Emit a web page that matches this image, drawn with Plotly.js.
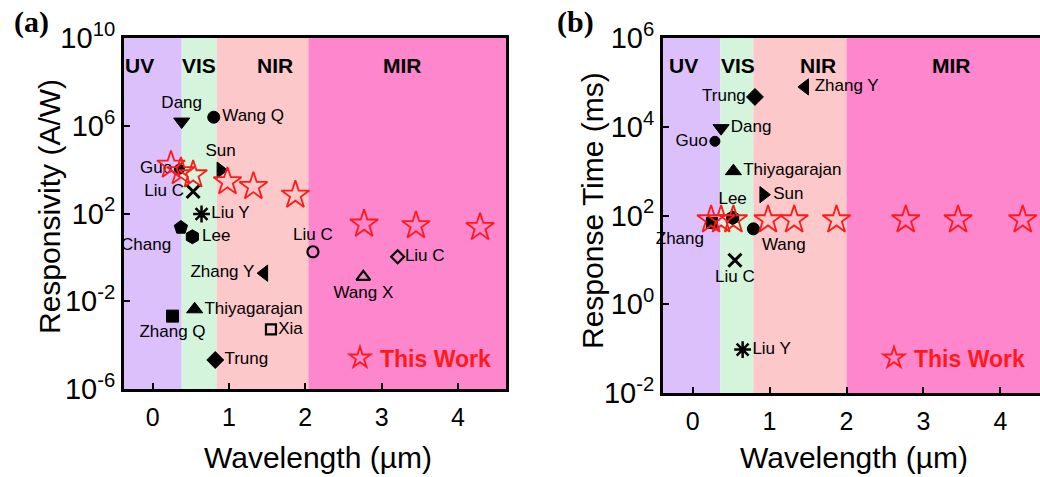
<!DOCTYPE html>
<html>
<head>
<meta charset="utf-8">
<script src="https://cdn.plot.ly/plotly-3.0.1.min.js"></script>
<style>
html,body{margin:0;padding:0;background:#fff;}
#chart{width:1040px;height:477px;}
</style>
</head>
<body>
<div id="chart"></div>
<script>
// ---------- DATA ----------
// spectral bands
const bandNames = ['UV', 'VIS', 'NIR', 'MIR'];
const bandEdgesA = [-0.376, 0.38, 0.84, 2.04, 4.63];
const bandEdgesB = [-0.385, 0.36, 0.79, 2.0, 4.515];
const bandColors = ['#dcc0fb', '#d4f4dc', '#fcc8c9', '#fd86cc'];

// This Work (both panels share wavelengths)
const workWavelength = [0.24, 0.37, 0.53, 0.98, 1.32, 1.87, 2.77, 3.45, 4.29];
const workResponsivity = [1.6e4, 8.1e3, 5.8e3, 2.8e3, 1.7e3, 690, 33, 28, 23];
const workResponseTime = [80, 80, 80, 80, 80, 80, 80, 80, 80];

// Panel (a): literature responsivity
const litANames = ['Dang', 'Wang Q', 'Sun', 'Guo', 'Liu C', 'Liu Y', 'Chang', 'Lee',
  'Liu C', 'Liu C', 'Zhang Y', 'Wang X', 'Thiyagarajan', 'Zhang Q', 'Xia', 'Trung'];
const litAWavelength = [0.38, 0.80, 0.89, 0.35, 0.53, 0.64, 0.37, 0.52,
  2.10, 3.21, 1.46, 2.76, 0.55, 0.26, 1.55, 0.82];
const litAResponsivity = [1.55e6, 2.45e6, 9.5e3, 1.05e4, 1.0e3, 95, 23, 8.7,
  1.8, 1.07, 0.19, 0.13, 4.3e-3, 2.1e-3, 5.2e-4, 2.1e-5];

// Panel (b): literature response time (ms)
const litBNames = ['Zhang Y', 'Trung', 'Dang', 'Guo', 'Thiyagarajan', 'Sun', 'Lee',
  'Zhang', 'Wang', 'Liu C', 'Liu Y'];
const litBWavelength = [1.46, 0.81, 0.37, 0.29, 0.53, 0.92, 0.52, 0.25, 0.79, 0.55, 0.65];
const litBResponseTime = [7.9e4, 4.7e4, 9.3e3, 4.7e3, 1000, 295, 89, 68, 50, 9.8, 0.095];

// tick labels
const xTickVals = [0, 1, 2, 3, 4];
const xTickText = ['0', '1', '2', '3', '4'];
const yTickValsA = [1e10, 1e6, 1e2, 1e-2, 1e-6];
const yTickTextA = ['10<sup>10</sup>', '10<sup>6</sup>', '10<sup>2</sup>', '10<sup>-2</sup>', '10<sup>-6</sup>'];
const yTickValsB = [1e6, 1e4, 1e2, 1, 1e-2];
const yTickTextB = ['10<sup>6</sup>', '10<sup>4</sup>', '10<sup>2</sup>', '10<sup>0</sup>', '10<sup>-2</sup>'];

// axis titles
const xTitle = 'Wavelength (µm)';
const yTitleA = 'Responsivity (A/W)';
const yTitleB = 'Response Time (ms)';

// ---------- STYLE ----------
const FONT = 'Liberation Sans, Arial, Helvetica, sans-serif';
const symA = ['triangle-down', 'circle', 'triangle-right', 'circle', 'x-thin-open', 'asterisk-open',
  'pentagon', 'hexagon', 'circle-open', 'diamond-open', 'triangle-left', 'triangle-up-open',
  'triangle-up', 'square', 'square-open', 'diamond'];
const sizeA = [14, 12, 14, 10, 13, 14, 14, 14, 11, 10, 14, 12, 14, 12, 10, 13];
const lwA = [1, 1, 1, 1, 3, 2.5, 1, 1, 2.2, 2.2, 1, 2.2, 1, 1, 2.2, 1];
const posA = ['top center', 'middle right', 'top center', 'middle left', 'middle left', 'middle right',
  'bottom left', 'middle right', 'top center', 'middle right', 'middle left', 'bottom center',
  'middle right', 'bottom center', 'middle right', 'middle right'];

const symB = ['triangle-left', 'diamond', 'triangle-down', 'circle', 'triangle-up', 'triangle-right',
  'hexagon', 'square', 'circle', 'x-thin-open', 'asterisk-open'];
const sizeB = [14, 13, 14, 10, 14, 14, 14, 11, 12, 13, 14];
const lwB = [1, 1, 1, 1, 1, 1, 1, 1, 1, 3, 2.5];
const posB = ['middle right', 'middle left', 'middle right', 'middle left', 'middle right', 'middle right',
  'top center', 'bottom left', 'bottom right', 'bottom center', 'middle right'];

const bandLabelXA = [-0.17, 0.61, 1.6, 3.28];
const bandLabelXB = [-0.12, 0.59, 1.63, 3.36];

// ---------- TRACES ----------
const traces = [
  {
    x: litAWavelength, y: litAResponsivity, text: litANames,
    xaxis: 'x', yaxis: 'y', type: 'scatter', mode: 'markers+text',
    textposition: posA, textfont: {family: FONT, size: 17, color: '#000'},
    marker: {symbol: symA, size: sizeA, color: '#000', opacity: 1, line: {color: '#000', width: lwA}},
    showlegend: false, hoverinfo: 'x+y+text', cliponaxis: false
  },
  {
    x: workWavelength, y: workResponsivity, name: 'This Work',
    xaxis: 'x', yaxis: 'y', type: 'scatter', mode: 'markers',
    marker: {symbol: 'star-open', size: 21, color: '#ff1a1a', line: {color: '#ff1a1a', width: 1.8}},
    showlegend: true, legend: 'legend', cliponaxis: false
  },
  {
    x: litBWavelength, y: litBResponseTime, text: litBNames,
    xaxis: 'x2', yaxis: 'y2', type: 'scatter', mode: 'markers+text',
    textposition: posB, textfont: {family: FONT, size: 17, color: '#000'},
    marker: {symbol: symB, size: sizeB, color: '#000', opacity: 1, line: {color: '#000', width: lwB}},
    showlegend: false, hoverinfo: 'x+y+text', cliponaxis: false
  },
  {
    x: workWavelength, y: workResponseTime, name: 'This Work',
    xaxis: 'x2', yaxis: 'y2', type: 'scatter', mode: 'markers',
    marker: {symbol: 'star-open', size: 21, color: '#ff1a1a', line: {color: '#ff1a1a', width: 1.8}},
    showlegend: true, legend: 'legend2', cliponaxis: false
  }
];

// ---------- SHAPES / ANNOTATIONS ----------
const shapes = [];
const annotations = [];
function addBands(edges, labelX, xref, yref) {
  for (let i = 0; i < bandNames.length; i++) {
    shapes.push({
      type: 'rect', xref: xref, yref: yref + ' domain',
      x0: edges[i], x1: edges[i + 1], y0: 0, y1: 1,
      fillcolor: bandColors[i], line: {width: 0}, layer: 'below'
    });
    annotations.push({
      text: '<b>' + bandNames[i] + '</b>', xref: xref, yref: yref + ' domain',
      x: labelX[i], y: 0.923, xanchor: 'center', yanchor: 'middle', showarrow: false,
      font: {family: FONT, size: 21, color: '#000'}
    });
  }
}
addBands(bandEdgesA, bandLabelXA, 'x', 'y');
addBands(bandEdgesB, bandLabelXB, 'x2', 'y2');

function addText(text, px, py, size, family, angle) {
  annotations.push({
    text: text, xref: 'paper', yref: 'paper', x: px / 1040, y: 1 - py / 477,
    xanchor: 'center', yanchor: 'middle', showarrow: false, textangle: angle || 0,
    font: {family: family, size: size, color: '#000'}
  });
}
const SERIF = 'Liberation Serif, Times New Roman, serif';
addText('<b>(a)</b>', 31, 22, 30, SERIF);
addText('<b>(b)</b>', 575, 22, 30, SERIF);
// axis titles
addText(yTitleA, 49, 207, 30, FONT, -90);
addText(yTitleB, 592, 211, 30, FONT, -90);
addText(xTitle, 318, 457, 30, FONT);
addText(xTitle, 854, 457, 30, FONT);

const axBase = {
  showline: true, linecolor: '#000', linewidth: 3,
  ticks: 'inside', ticklen: 6, tickwidth: 2, tickcolor: '#000',
  showgrid: false, zeroline: false, automargin: false
};

const legendBase = {
  bgcolor: 'rgba(0,0,0,0)', borderwidth: 0, xref: 'paper', yref: 'paper',
  xanchor: 'left', yanchor: 'middle', itemsizing: 'trace',
  font: {family: FONT, size: 23, color: '#ff1a1a', weight: 'bold'}
};

const layout = {
  width: 1040, height: 477,
  margin: {l: 0, r: 0, t: 0, b: 0},
  paper_bgcolor: '#fff', plot_bgcolor: '#fff',
  font: {family: FONT, color: '#000'},
  xaxis: Object.assign({}, axBase, {
    domain: [124 / 1040, 506 / 1040], range: [-0.376, 4.63], mirror: true,
    tickvals: xTickVals, ticktext: xTickText, tickfont: {family: FONT, size: 25},
    ticklabelstandoff: 4, anchor: 'y'
  }),
  yaxis: Object.assign({}, axBase, {
    domain: [1 - 389 / 477, 1 - 38 / 477], type: 'log', range: [-6, 10], mirror: true,
    tickvals: yTickValsA, ticktext: yTickTextA, tickfont: {family: FONT, size: 29},
    anchor: 'x'
  }),
  xaxis2: Object.assign({}, axBase, {
    domain: [663 / 1040, 1], range: [-0.385, 4.515], mirror: true,
    tickvals: xTickVals, ticktext: xTickText, tickfont: {family: FONT, size: 25},
    ticklabelstandoff: 4, anchor: 'y2'
  }),
  yaxis2: Object.assign({}, axBase, {
    domain: [1 - 393 / 477, 1 - 38 / 477], type: 'log', range: [-2, 6], mirror: false,
    tickvals: yTickValsB, ticktext: yTickTextB, tickfont: {family: FONT, size: 29},
    anchor: 'x2'
  }),
  legend: Object.assign({}, legendBase, {x: 340 / 1040, y: 1 - 358 / 477}),
  legend2: Object.assign({}, legendBase, {x: 874 / 1040, y: 1 - 358 / 477}),
  shapes: shapes,
  annotations: annotations
};

Plotly.newPlot('chart', traces, layout, {displayModeBar: false, staticPlot: true});
</script>
</body>
</html>
